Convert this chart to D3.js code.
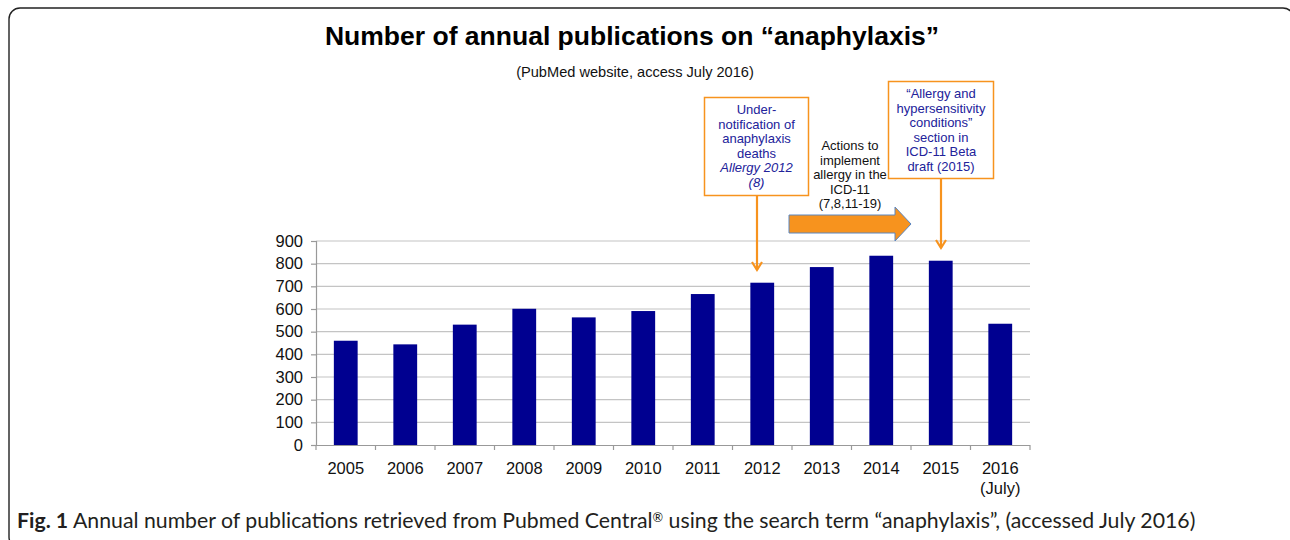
<!DOCTYPE html>
<html><head><meta charset="utf-8">
<script src="https://cdn.jsdelivr.net/npm/d3@7"></script>
<style>html,body{margin:0;padding:0;background:#fff;overflow:hidden}</style>
</head><body>
<svg id="c" width="1290" height="540"></svg>
<script>
const years = ["2005","2006","2007","2008","2009","2010","2011","2012","2013","2014","2015","2016"];
const yearLabels = [["2005"],["2006"],["2007"],["2008"],["2009"],["2010"],["2011"],["2012"],["2013"],["2014"],["2015"],["2016","(July)"]];
const publications = [460, 444, 531, 601, 563, 591, 666, 716, 785, 835, 813, 535];
const yTicks = [0,100,200,300,400,500,600,700,800,900];
const note1 = ["Under-","notification of","anaphylaxis","deaths"];
const note1Italic = ["Allergy 2012","(8)"];
const note2 = ["\u201cAllergy and","hypersensitivity","conditions\u201d","section in","ICD-11 Beta","draft (2015)"];
const note3 = ["Actions to","implement","allergy in the","ICD-11","(7,8,11-19)"];

(function(){
const svg = d3.select("#c");
const FONT = "'Liberation Sans', Arial, sans-serif";
const ORANGE = "#f7931e";
const NAVY = "#000090";
const NOTE = "#22229a";

// frame
svg.append("rect").attr("x",9).attr("y",8).attr("width",1285).attr("height",540)
  .attr("rx",11).attr("fill","none").attr("stroke","#222").attr("stroke-width",1.4);

const pL=316, pR=1030, pT=241, pB=445;
const x = d3.scaleBand().domain(years).range([pL,pR]).paddingInner(0.6).paddingOuter(0.3);
const xb = d3.scaleBand().domain(years).range([pL,pR]);
const y = d3.scaleLinear().domain([0,900]).range([pB,pT]);

// gridlines
svg.append("g").selectAll("line").data(yTicks.filter(d=>d>0)).join("line")
  .attr("x1",pL).attr("x2",pR).attr("y1",d=>y(d)).attr("y2",d=>y(d))
  .attr("stroke","#c4c4c4").attr("stroke-width",1.2);

// y axis
const ya = svg.append("g").attr("transform",`translate(${pL},0)`)
  .call(d3.axisLeft(y).tickValues(yTicks).tickSize(5).tickPadding(8).tickFormat(d3.format("d")));
ya.select(".domain").attr("stroke","#999").attr("stroke-width",1.2);
ya.selectAll(".tick line").attr("stroke","#999").attr("stroke-width",1.2);
ya.selectAll("text").attr("font-family",FONT).attr("font-size",16.5).attr("fill","#111");

// bars
svg.append("g").selectAll("rect").data(years).join("rect")
  .attr("x",d=>x(d)).attr("width",x.bandwidth())
  .attr("y",(d,i)=>y(publications[i])).attr("height",(d,i)=>pB-y(publications[i]))
  .attr("fill",NAVY);

// x axis
svg.append("line").attr("x1",pL).attr("x2",pR).attr("y1",pB+0.5).attr("y2",pB+0.5)
  .attr("stroke","#999").attr("stroke-width",1.2);
const bounds = years.map(d=>xb(d)).concat([pR]);
svg.append("g").selectAll("line").data(bounds).join("line")
  .attr("x1",d=>d).attr("x2",d=>d).attr("y1",pB).attr("y2",pB+5)
  .attr("stroke","#999").attr("stroke-width",1.2);
const xl = svg.append("g").selectAll("text").data(years).join("text")
  .attr("x",d=>xb(d)+xb.bandwidth()/2).attr("y",pB+29)
  .attr("text-anchor","middle").attr("font-family",FONT).attr("font-size",16.5).attr("fill","#111");
xl.each(function(d,i){
  const t=d3.select(this);
  yearLabels[i].forEach((s,j)=>t.append("tspan").attr("x",xb(d)+xb.bandwidth()/2).attr("dy",j?19.5:0).text(s));
});

// title
svg.append("text").attr("x",632).attr("y",45).attr("text-anchor","middle")
  .attr("font-family",FONT).attr("font-weight","bold").attr("font-size",26.5).attr("fill","#000")
  .text("Number of annual publications on \u201canaphylaxis\u201d");
svg.append("text").attr("x",635).attr("y",77).attr("text-anchor","middle")
  .attr("font-family",FONT).attr("font-size",14.6).attr("fill","#111")
  .text("(PubMed website, access July 2016)");

// annotation boxes
function box(x0,y0,w,h){
  svg.append("rect").attr("x",x0).attr("y",y0).attr("width",w).attr("height",h)
    .attr("fill","#fff").attr("stroke",ORANGE).attr("stroke-width",1.5);
}
function lines(arr,cx,y0,col,italic){
  arr.forEach((s,i)=>svg.append("text").attr("x",cx).attr("y",y0+i*14.6).attr("text-anchor","middle")
    .attr("font-family",FONT).attr("font-size",13).attr("fill",col)
    .attr("font-style",italic?"italic":"normal").text(s));
}
function vArrow(cx,y0,y1){
  svg.append("line").attr("x1",cx).attr("x2",cx).attr("y1",y0).attr("y2",y1)
    .attr("stroke",ORANGE).attr("stroke-width",2.2);
  svg.append("path").attr("d",`M${cx-5},${y1-8}L${cx},${y1}L${cx+5},${y1-8}`)
    .attr("fill","none").attr("stroke",ORANGE).attr("stroke-width",2.2);
}
box(704.5,97.5,104,98);
lines(note1,756.5,114,NOTE,false);
lines(note1Italic,756.5,114+4*14.6,NOTE,true);
vArrow(757,195,270);

box(888.5,81.5,105,97);
lines(note2,941,98,NOTE,false);
vArrow(941,179,248);

lines(note3,850,150,"#111",false);

// block arrow
const ax0 = xb("2013")-3, ax1 = xb("2015");
svg.append("path")
  .attr("d",`M${ax0},215 L${ax1-16},215 L${ax1-16},207 L${ax1},224 L${ax1-16},241 L${ax1-16},233 L${ax0},233 Z`)
  .attr("fill",ORANGE).attr("stroke","#5b86c0").attr("stroke-width",1);

// caption
const cap = svg.append("text").attr("x",17).attr("y",528).attr("font-family","Lato, 'Open Sans', sans-serif")
  .attr("font-size",18).attr("fill","#231f20");
cap.append("tspan").attr("font-weight","bold").text("Fig. 1");
cap.append("tspan").text(" Annual number of publications retrieved from Pubmed Central");
cap.append("tspan").attr("font-size","0.6em").attr("dy",-6).text("\u00ae");
cap.append("tspan").attr("dy",6).text(" using the search term \u201canaphylaxis\u201d, (accessed July 2016)");
const cw = cap.node().getComputedTextLength();
cap.attr("font-size", 18*1179/cw);
})();
</script>
</body></html>
